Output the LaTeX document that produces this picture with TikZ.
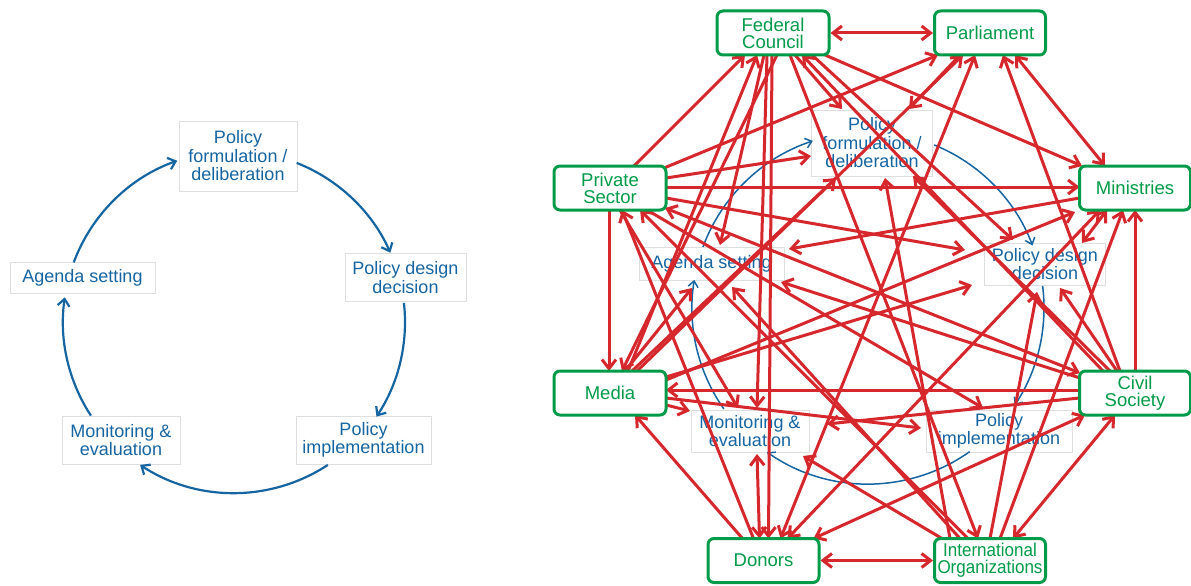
\documentclass[tikz,border=0pt]{standalone}
\usepackage{fontspec}
\usepackage{graphicx}
\setmainfont{Liberation Sans}
\usetikzlibrary{arrows.meta}
\definecolor{cred}{RGB}{214,39,45}
\definecolor{cgreen}{RGB}{0,155,72}
\definecolor{cblue}{RGB}{22,101,163}
\definecolor{cgray}{RGB}{222,222,222}
\pgfdeclarelayer{bg}\pgfdeclarelayer{fg}\pgfsetlayers{bg,main,fg}
\begin{document}
\begin{tikzpicture}[x=1pt,y=-1pt,
  stage/.style={draw=cgray,line width=1pt,fill=white,text=cblue,align=center,inner sep=0pt,font=\fontsize{18}{18.5}\selectfont},
  actor/.style={draw=cgreen,line width=3pt,rounded corners=6pt,fill=white,text=cgreen,align=center,inner sep=0pt,minimum width=111pt,minimum height=44pt,font=\fontsize{18.5}{17}\selectfont},
  cyc/.style={draw=cblue,line width=2.2pt,-{Straight Barb[length=7pt,width=12pt]}},
  cycr/.style={draw=cblue,line width=1.5pt,-{Straight Barb[length=6pt,width=10pt]}},
  arr/.style={draw=cred,line width=3pt,-{Straight Barb[length=9pt,width=14pt]}},
  arrb/.style={draw=cred,line width=3pt,{Straight Barb[length=9pt,width=14pt]}-{Straight Barb[length=9pt,width=14pt]}},
]
\useasboundingbox (0,0) rectangle (1191,586);
\begin{pgfonlayer}{bg}
\fill[white] (0,0) rectangle (1191,586);
% left cycle
\coordinate (cl) at (234,322);
\node[stage,minimum width=118pt,minimum height=70pt] (lf) at (238,156) {Policy\\formulation /\\deliberation};
\node[stage,minimum width=121pt,minimum height=48pt] (ld) at (405.5,277.5) {Policy design\\decision};
\node[stage,minimum width=135pt,minimum height=48pt] (li) at (363.5,440) {Policy\\implementation};
\node[stage,minimum width=118pt,minimum height=48pt] (lm) at (121,440) {Monitoring \&\\evaluation};
\node[stage,minimum width=145pt,minimum height=31pt] (la) at (82.5,277.5) {Agenda setting};
\draw[cyc] (cl) ++(-159.6:171) arc[start angle=-159.6,end angle=-109.4,radius=171];
\draw[cyc] (cl) ++(-68.5:171) arc[start angle=-68.5,end angle=-23.9,radius=171];
\draw[cyc] (cl) ++(-6.4:171) arc[start angle=-6.4,end angle=33.6,radius=171];
\draw[cyc] (cl) ++(56.7:171) arc[start angle=56.7,end angle=123.3,radius=171];
\draw[cyc] (cl) ++(146.8:171) arc[start angle=146.8,end angle=188.3,radius=171];
% right background cycle
\coordinate (cr) at (868,308);
\node[stage,minimum width=121pt,minimum height=66pt] (rf) at (872,143) {Policy\\formulation /\\deliberation};
\node[stage,minimum width=121pt,minimum height=42pt] (rd) at (1045,264) {Policy design\\decision};
\node[stage,minimum width=146pt,minimum height=42pt] (ri) at (999,431) {Policy\\implementation};
\node[stage,minimum width=118pt,minimum height=42pt] (rm) at (750,431) {Monitoring \&\\evaluation};
\node[stage,minimum width=145pt,minimum height=33pt] (rg) at (711.5,263.5) {Agenda setting};
\draw[cycr] (cr) ++(-159.7:176) arc[start angle=-159.7,end angle=-108.3,radius=176];
\draw[cycr] (cr) ++(-67.9:176) arc[start angle=-67.9,end angle=-20.8,radius=176];
\draw[cycr] (cr) ++(-7.2:176) arc[start angle=-7.2,end angle=33.6,radius=176];
\draw[cycr] (cr) ++(54.7:176) arc[start angle=54.7,end angle=125,radius=176];
\draw[cycr] (cr) ++(145:176) arc[start angle=145,end angle=189.2,radius=176];
\end{pgfonlayer}
\begin{pgfonlayer}{fg}
\node[actor,minimum width=112pt] (fc) at (773,33) {Federal\\Council};
\node[actor] (pa) at (990,33) {Parliament};
\node[actor] (mi) at (1135,188) {Ministries};
\node[actor] (cs) at (1135,393) {Civil\\Society};
\node[actor] (io) at (990,560.5) {\scalebox{0.92}[1]{International}\\\scalebox{0.92}[1]{Organizations}};
\node[actor] (dn) at (763.5,560.5) {Donors};
\node[actor,minimum width=112pt] (me) at (610,393) {Media};
\node[actor,minimum width=112pt] (ps) at (610,188) {Private\\Sector};
\end{pgfonlayer}
% actor to actor
\draw[arrb] (fc.east) -- (pa.west);
\draw[arrb] (dn.east) -- (io.west);
\draw[arr] ([shift={(24,-22)}]ps.center) -- ([shift={(-28,22)}]fc.center);
\draw[arr] ([shift={(54,-20)}]ps.center) -- ([shift={(-52,22)}]pa.center);
\draw[arr] ([shift={(55.5,-1)}]ps.center) -- ([shift={(-55.5,-1)}]mi.center);
\draw[arr] ([shift={(-1,22)}]ps.center) -- ([shift={(-1,-22)}]me.center);
\draw[arr] ([shift={(4,22)}]fc.center) -- ([shift={(12,-22)}]me.center);
\draw[arr] ([shift={(18,-22)}]me.center) -- ([shift={(-16,22)}]fc.center);
\draw[arr] ([shift={(27,-22)}]me.center) -- ([shift={(-27,22)}]pa.center);
\draw[arr] ([shift={(52,22)}]fc.center) -- ([shift={(-53,-22)}]mi.center);
\draw[arrb] ([shift={(25,22)}]pa.center) -- ([shift={(-30,-22)}]mi.center);
\draw[arr] ([shift={(-15,-22)}]cs.center) -- ([shift={(13,22)}]pa.center);
\draw[arrb] ([shift={(-15,22)}]pa.center) -- ([shift={(17,-22)}]dn.center);
\draw[arr] ([shift={(-1,22)}]fc.center) -- ([shift={(5,-22)}]dn.center);
\draw[arr] ([shift={(-32,-22)}]cs.center) -- ([shift={(29,22)}]fc.center);
\draw[arr] ([shift={(17,22)}]fc.center) -- ([shift={(-12,-22)}]io.center);
\draw[arr] ([shift={(-22,-22)}]io.center) -- ([shift={(30,22)}]ps.center);
\draw[arr] ([shift={(-10,-22)}]dn.center) -- ([shift={(12,22)}]ps.center);
\draw[arr] ([shift={(-21,-22)}]dn.center) -- ([shift={(25,22)}]me.center);
\draw[arrb] ([shift={(-50,22)}]cs.center) -- ([shift={(50,-22)}]dn.center);
\draw[arrb] ([shift={(-20,22)}]cs.center) -- ([shift={(23,-22)}]io.center);
\draw[arr] ([shift={(0,-22)}]cs.center) -- ([shift={(0,22)}]mi.center);
\draw[arr] ([shift={(10,-22)}]io.center) -- ([shift={(-12,22)}]mi.center);
\draw[arrb] ([shift={(24,-22)}]dn.center) -- ([shift={(-35,22)}]mi.center);
\draw[arrb] ([shift={(55,20)}]ps.center) -- ([shift={(-55,-20)}]cs.center);
\draw[arr] ([shift={(-55.5,-3)}]cs.center) -- ([shift={(56,-3)}]me.center);
\draw[arr] ([shift={(56,-13)}]me.center) -- ([shift={(-60,24)}]mi.center);
% actor to stage
\draw[arr] ([shift={(56,-10)}]ps.center) -- ([shift={(-61,13)}]rf.center);
\draw[arr] ([shift={(56,10)}]ps.center) -- ([shift={(-80,-14)}]rd.center);
\draw[arr] ([shift={(-55.5,10)}]mi.center) -- ([shift={(77.5,-14.5)}]rg.center);
\draw[arr] ([shift={(-9,22)}]fc.center) -- ([shift={(8.5,-18.5)}]rg.center);
\draw[arr] ([shift={(22,22)}]fc.center) -- ([shift={(-30,-34)}]rf.center);
\draw[arr] ([shift={(-30,22)}]pa.center) -- ([shift={(37,-34)}]rf.center);
\draw[arr] ([shift={(-6,22)}]fc.center) -- ([shift={(7,-23)}]rm.center);
\draw[arr] ([shift={(10,22)}]ps.center) -- ([shift={(-12,-23)}]rm.center);
\draw[arr] ([shift={(56,12)}]me.center) -- ([shift={(-60,-20)}]rm.center);
\draw[arr] ([shift={(-55.5,5)}]cs.center) -- ([shift={(77,-7)}]rm.center);
\draw[arr] ([shift={(-48,-22)}]io.center) -- ([shift={(53,25)}]rm.center);
\draw[arrb] ([shift={(-4,-22)}]dn.center) -- ([shift={(7,23)}]rm.center);
\draw[arr] ([shift={(56,5)}]me.center) -- ([shift={(-78,-3)}]ri.center);
\draw[arr] ([shift={(37,22)}]ps.center) -- ([shift={(-16,-23)}]ri.center);
\draw[arr] ([shift={(56,-16)}]me.center) -- ([shift={(-73,21)}]rd.center);
\draw[arr] ([shift={(-18,-22)}]cs.center) -- ([shift={(15,24)}]rd.center);
\draw[arr] ([shift={(39,22)}]fc.center) -- ([shift={(-32,-24)}]rd.center);
\draw[arr] ([shift={(-40,-22)}]io.center) -- ([shift={(13,35)}]rf.center);
\draw[arr] ([shift={(-25,-22)}]cs.center) -- ([shift={(41,33)}]rf.center);
\draw[arr] ([shift={(-30,-22)}]io.center) -- ([shift={(20.5,23.5)}]rg.center);
\draw[arr] ([shift={(15,-22)}]me.center) -- ([shift={(-19.5,24.5)}]rg.center);
\draw[arr] ([shift={(22,-22)}]me.center) -- ([shift={(-36,35)}]rf.center);
\draw[arr] ([shift={(-55,-15)}]cs.center) -- ([shift={(69.5,18.5)}]rg.center);
\draw[arrb] ([shift={(-28,22)}]mi.center) -- ([shift={(37,-21)}]rd.center);
\draw[arr] ([shift={(0,-22)}]io.center) -- ([shift={(-8,28)}]rd.center);
\end{tikzpicture}
\end{document}
